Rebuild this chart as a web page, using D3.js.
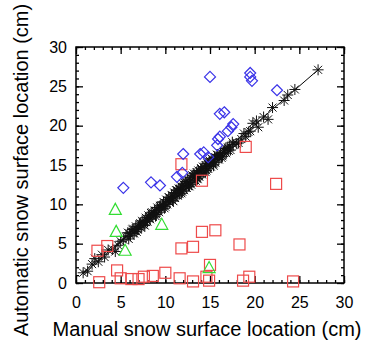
<!DOCTYPE html>
<html><head><meta charset="utf-8">
<script src="https://cdn.jsdelivr.net/npm/d3@7"></script>
<style>html,body{margin:0;padding:0;background:#fff;}svg{display:block;}</style>
</head><body><svg id="c" width="368" height="344"></svg>
<script>
// ---- data ----
const xTicks = [0, 5, 10, 15, 20, 25, 30];
const yTicks = [0, 5, 10, 15, 20, 25, 30];
const xTitle = "Manual snow surface location (cm)";
const yTitle = "Automatic snow surface location (cm)";

const blackManual = [0.8,1.3,1.8,2.1,2.5,2.9,3.2,3.6,4.1,4.4,4.7,5.0,5.3,5.6,5.8,6.1,6.3,6.5,6.7,6.9,7.1,7.3,7.4,7.6,7.8,8.0,8.1,8.3,8.5,8.6,8.8,9.0,9.1,9.3,9.5,9.6,9.8,10.0,10.1,10.2,10.4,10.5,10.7,10.8,11.0,11.1,11.2,11.4,11.5,11.6,11.8,11.9,12.0,12.1,12.3,12.4,12.5,12.6,12.8,12.9,13.0,13.1,13.2,13.4,13.5,13.6,13.7,13.8,14.0,14.1,14.2,14.3,14.5,14.6,14.7,14.8,15.0,15.1,15.2,15.4,15.5,15.6,15.8,16.0,16.2,16.4,16.6,16.8,17.0,17.3,17.6,18.0,18.5,19.0,19.3,19.8,20.4,21.0,21.5,22.0,23.3,23.7,24.5,27.1,
  6.0,6.6,7.0,7.5,8.2,8.7,9.2,9.7,10.3,10.6,10.9,11.3,11.7,12.2,12.7,13.3,13.9,14.4,14.9,15.3,15.7,16.1,16.5,16.9,7.9,9.4,11.9,13.6,15.9,17.2,
  5.9,6.4,6.8,7.2,7.7,8.4,8.9,9.4,9.9,10.4,10.9,11.3,11.8,12.2,12.7,13.1,13.6,14.0,14.5,14.9,15.4,15.8,16.3,16.7,17.1,17.5,18.2,18.8,19.5,20.2];
const blackAuto = [1.3,1.5,2.4,3.1,2.7,3.6,3.3,4.2,4.3,4.0,4.8,5.3,5.5,5.9,6.4,6.0,6.8,6.3,7.2,6.8,7.5,7.0,7.9,7.4,8.3,7.8,8.6,8.1,9.0,8.4,9.2,8.7,9.6,9.0,9.9,9.4,10.3,9.7,10.6,10.0,10.9,10.2,11.2,10.5,11.5,10.8,11.8,11.1,12.0,11.3,12.3,11.6,12.6,11.8,12.9,12.1,13.1,12.3,13.4,12.5,13.7,12.8,13.9,13.0,14.1,13.3,14.3,13.5,14.6,13.8,14.8,14.0,15.0,14.3,15.2,14.5,15.5,14.8,15.8,15.1,16.0,15.3,16.3,15.7,16.5,16.1,16.8,16.5,17.2,16.9,17.6,17.7,18.3,18.6,19.2,20.3,19.8,21.1,20.8,22.3,23.2,23.9,24.6,27.1,
  6.3,6.6,7.1,7.7,8.3,8.8,9.3,9.9,10.4,10.7,11.0,11.4,11.9,12.4,12.8,13.5,14.1,14.6,15.0,15.5,15.9,16.2,16.6,17.0,8.0,9.6,12.1,13.8,16.0,17.4,
  5.6,6.9,6.5,7.6,7.3,8.9,8.5,9.8,9.5,10.9,10.4,11.8,11.4,12.7,12.3,13.6,13.2,14.5,14.1,15.4,14.9,16.3,15.9,17.1,16.8,17.9,17.8,19.0,19.3,20.6];

const redManual = [2.4,3.5,4.6,2.6,5.0,6.2,7.0,7.6,8.6,10.0,11.6,13.1,11.8,14.1,11.8,13.1,14.1,15.6,18.3,15.0,14.6,18.7,19.4,24.3,22.4,19.0,14.9];
const redAuto   = [4.1,4.7,1.6,0.1,0.6,0.5,0.5,0.8,0.9,1.3,0.6,0.2,15.1,13.0,4.4,4.6,6.5,6.7,4.9,2.3,0.8,0.3,0.8,0.2,12.6,17.3,0.3];

const greenManual = [4.4,4.5,5.5,9.6,14.9];
const greenAuto   = [9.3,6.5,4.1,7.4,1.9];

const blueManual = [5.3,8.4,9.4,11.3,11.9,12.0,13.9,14.3,14.8,15.8,15.9,16.1,16.1,16.6,17.0,17.4,17.6,15.0,19.5,19.5,19.7,22.5];
const blueAuto   = [12.1,12.8,12.4,13.5,14.0,16.4,16.4,16.6,16.0,17.5,18.3,18.6,21.5,21.7,19.3,19.8,20.2,26.2,26.7,26.2,25.7,24.5];

const fitX = [0.8, 27.1];
const fitY = [1.2, 27.1];

// ---- chart ----
const svg = d3.select("#c");
const L = 76, R = 344, T = 47, B = 283;
const x = d3.scaleLinear().domain([0, 30]).range([L, R]);
const y = d3.scaleLinear().domain([0, 30]).range([B, T]);
const font = "'Liberation Sans', Arial, Helvetica, sans-serif";

const minor = d3.range(0, 31, 1);
function addAxis(axisGen, tf) {
  const g = svg.append("g").attr("transform", tf).call(axisGen);
  g.select(".domain").remove();
  g.selectAll("line").attr("stroke", "#000").attr("stroke-width", 1.3);
  return g;
}
addAxis(d3.axisBottom(x).tickValues(minor).tickSize(-3).tickFormat(""), `translate(0,${B})`);
addAxis(d3.axisTop(x).tickValues(minor).tickSize(-3).tickFormat(""), `translate(0,${T})`);
addAxis(d3.axisLeft(y).tickValues(minor).tickSize(-3).tickFormat(""), `translate(${L},0)`);
addAxis(d3.axisRight(y).tickValues(minor).tickSize(-3).tickFormat(""), `translate(${R},0)`);
addAxis(d3.axisTop(x).tickValues(xTicks).tickSize(-7).tickFormat(""), `translate(0,${T})`);
addAxis(d3.axisRight(y).tickValues(yTicks).tickSize(-7).tickFormat(""), `translate(${R},0)`);
const gx = addAxis(d3.axisBottom(x).tickValues(xTicks).tickSize(-7).tickPadding(14).tickFormat(d3.format("d")), `translate(0,${B})`);
gx.selectAll("text").attr("font-family", font).attr("font-size", 16).attr("fill", "#000");
const gy = addAxis(d3.axisLeft(y).tickValues(yTicks).tickSize(-7).tickPadding(9).tickFormat(d3.format("d")), `translate(${L},0)`);
gy.selectAll("text").attr("font-family", font).attr("font-size", 16).attr("fill", "#000");

svg.append("rect").attr("x", L).attr("y", T).attr("width", R - L).attr("height", B - T)
  .attr("fill", "none").attr("stroke", "#000").attr("stroke-width", 1.5);

svg.append("line").attr("x1", x(fitX[0])).attr("y1", y(fitY[0])).attr("x2", x(fitX[1])).attr("y2", y(fitY[1]))
  .attr("stroke", "#000").attr("stroke-width", 1);

const s = 5.5, d = 4;
const star = `M${-s},0L${s},0M0,${-s}L0,${s}M${-d},${-d}L${d},${d}M${-d},${d}L${d},${-d}`;
svg.append("g").selectAll("path").data(blackManual.map((v, i) => [v, blackAuto[i]])).join("path")
  .attr("transform", p => `translate(${x(p[0])},${y(p[1])})`).attr("d", star)
  .attr("stroke", "#111").attr("stroke-width", 1).attr("fill", "none");

svg.append("g").selectAll("rect").data(redManual.map((v, i) => [v, redAuto[i]])).join("rect")
  .attr("x", p => x(p[0]) - 5.5).attr("y", p => y(p[1]) - 5.5).attr("width", 11).attr("height", 11)
  .attr("fill", "none").attr("stroke", "#ee4a4a").attr("stroke-width", 1.2);

svg.append("g").selectAll("path").data(greenManual.map((v, i) => [v, greenAuto[i]])).join("path")
  .attr("transform", p => `translate(${x(p[0])},${y(p[1])})`).attr("d", "M0,-6.5L6,4.5L-6,4.5Z")
  .attr("fill", "none").attr("stroke", "#33dd33").attr("stroke-width", 1.2);

svg.append("g").selectAll("path").data(blueManual.map((v, i) => [v, blueAuto[i]])).join("path")
  .attr("transform", p => `translate(${x(p[0])},${y(p[1])})`).attr("d", "M0,-5.5L5.5,0L0,5.5L-5.5,0Z")
  .attr("fill", "none").attr("stroke", "#3a33e8").attr("stroke-width", 1.2);

svg.append("text").attr("x", 207).attr("y", 336).attr("text-anchor", "middle")
  .attr("font-family", font).attr("font-size", 20).attr("fill", "#000").text(xTitle);
svg.append("text").attr("transform", "translate(28,170) rotate(-90)").attr("text-anchor", "middle")
  .attr("font-family", font).attr("font-size", 20).attr("fill", "#000").text(yTitle);
</script></body></html>
